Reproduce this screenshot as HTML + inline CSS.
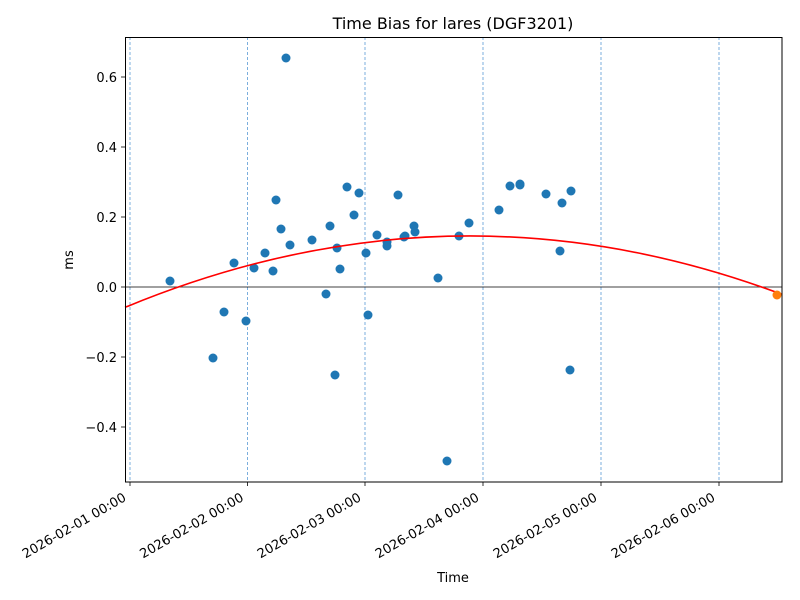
<!DOCTYPE html>
<html><head><meta charset="utf-8"><style>body{margin:0;background:#fff}svg{display:block;font-family:"DejaVu Sans","Liberation Sans",sans-serif}</style></head>
<body>
<svg width="800" height="600" viewBox="0 0 800 600">
<rect width="800" height="600" fill="#fff"/>
<g stroke="#5b9bd5" stroke-width="0.8" stroke-dasharray="3,2">
<line x1="130" y1="37" x2="130" y2="482"/><line x1="247.5" y1="37" x2="247.5" y2="482"/>
<line x1="365" y1="37" x2="365" y2="482"/><line x1="483" y1="37" x2="483" y2="482"/>
<line x1="601" y1="37" x2="601" y2="482"/><line x1="719" y1="37" x2="719" y2="482"/>
</g>
<line x1="125" y1="287" x2="782" y2="287" stroke="#000" stroke-width="0.8"/>
<g fill="#1f77b4">
<circle cx="170" cy="281" r="4.5"/><circle cx="213" cy="358" r="4.5"/><circle cx="224" cy="312" r="4.5"/><circle cx="234" cy="263" r="4.5"/><circle cx="246" cy="321" r="4.5"/><circle cx="254" cy="268" r="4.5"/><circle cx="265" cy="253" r="4.5"/><circle cx="273" cy="271" r="4.5"/><circle cx="276" cy="200" r="4.5"/><circle cx="281" cy="229" r="4.5"/><circle cx="286" cy="58" r="4.5"/><circle cx="290" cy="245" r="4.5"/><circle cx="312" cy="240" r="4.5"/><circle cx="326" cy="294" r="4.5"/><circle cx="330" cy="226" r="4.5"/><circle cx="335" cy="375" r="4.5"/><circle cx="337" cy="248" r="4.5"/><circle cx="340" cy="269" r="4.5"/><circle cx="347" cy="187" r="4.5"/><circle cx="354" cy="215" r="4.5"/><circle cx="359" cy="193" r="4.5"/><circle cx="366" cy="253" r="4.5"/><circle cx="368" cy="315" r="4.5"/><circle cx="377" cy="235" r="4.5"/><circle cx="387" cy="242" r="4.5"/><circle cx="387" cy="246" r="4.5"/><circle cx="398" cy="195" r="4.5"/><circle cx="404" cy="237" r="4.5"/><circle cx="405" cy="236" r="4.5"/><circle cx="414" cy="226" r="4.5"/><circle cx="415" cy="232" r="4.5"/><circle cx="438" cy="278" r="4.5"/><circle cx="447" cy="461" r="4.5"/><circle cx="459" cy="236" r="4.5"/><circle cx="469" cy="223" r="4.5"/><circle cx="499" cy="210" r="4.5"/><circle cx="510" cy="186" r="4.5"/><circle cx="520" cy="184" r="4.5"/><circle cx="520" cy="185" r="4.5"/><circle cx="546" cy="194" r="4.5"/><circle cx="560" cy="251" r="4.5"/><circle cx="562" cy="203" r="4.5"/><circle cx="570" cy="370" r="4.5"/><circle cx="571" cy="191" r="4.5"/>
</g>
<path d="M125,307.4 Q453.5,171.4 782,294.4" fill="none" stroke="#ff0000" stroke-width="1.6"/>
<circle cx="777" cy="295" r="4.5" fill="#ff7f0e"/>
<rect x="125.5" y="37.5" width="656.5" height="444.5" fill="none" stroke="#000" stroke-width="1"/>
<g stroke="#000" stroke-width="0.8">
<line x1="121" y1="77" x2="125" y2="77"/><line x1="121" y1="147" x2="125" y2="147"/><line x1="121" y1="217" x2="125" y2="217"/><line x1="121" y1="287" x2="125" y2="287"/><line x1="121" y1="357" x2="125" y2="357"/><line x1="121" y1="427" x2="125" y2="427"/>
<line x1="130" y1="482" x2="130" y2="486"/><line x1="247.5" y1="482" x2="247.5" y2="486"/><line x1="365" y1="482" x2="365" y2="486"/><line x1="483" y1="482" x2="483" y2="486"/><line x1="601" y1="482" x2="601" y2="486"/><line x1="719" y1="482" x2="719" y2="486"/>
</g>
<g font-size="13" text-anchor="end" fill="#000">
<text x="117" y="82">0.6</text><text x="117" y="152">0.4</text><text x="117" y="222">0.2</text><text x="117" y="292">0.0</text><text x="117" y="362">−0.2</text><text x="117" y="432">−0.4</text>
</g>
<g font-size="13" text-anchor="end" fill="#000">
<text transform="translate(127,500) rotate(-30)">2026-02-01 00:00</text>
<text transform="translate(244.5,500) rotate(-30)">2026-02-02 00:00</text>
<text transform="translate(362,500) rotate(-30)">2026-02-03 00:00</text>
<text transform="translate(480,500) rotate(-30)">2026-02-04 00:00</text>
<text transform="translate(598,500) rotate(-30)">2026-02-05 00:00</text>
<text transform="translate(716,500) rotate(-30)">2026-02-06 00:00</text>
</g>
<text x="453" y="582" font-size="13" text-anchor="middle">Time</text>
<text transform="translate(73,260) rotate(-90)" font-size="13" text-anchor="middle">ms</text>
<text x="453" y="29" font-size="16" text-anchor="middle">Time Bias for lares (DGF3201)</text>
</svg>
</body></html>
